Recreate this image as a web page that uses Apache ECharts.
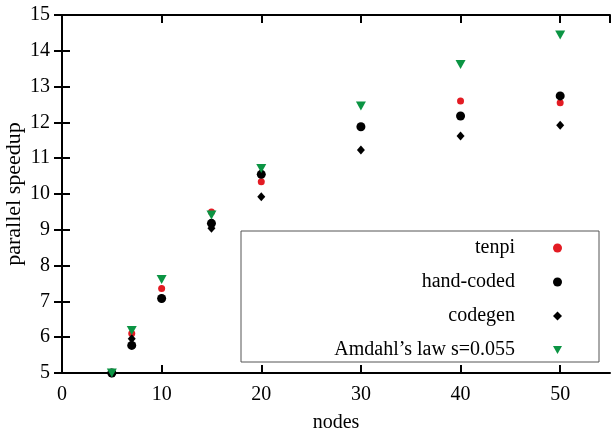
<!DOCTYPE html>
<html>
<head>
<meta charset="utf-8">
<script src="https://cdn.jsdelivr.net/npm/echarts@6/dist/echarts.min.js"></script>
<style>
  html, body { margin: 0; padding: 0; background: #fff; }
  #main { width: 611px; height: 429px; }
</style>
</head>
<body>
<div id="main"></div>
<script>
// nodes on the x axis
const nodes = [5, 7, 10, 15, 20, 30, 40, 50]
// measured parallel speedup per series
const tenpi = [5.0, 6.10, 7.36, 9.50, 10.34, 11.88, 12.60, 12.55]
const handCoded = [5.0, 5.77, 7.08, 9.18, 10.55, 11.88, 12.18, 12.74]
const codegen = [5.0, 5.96, 7.08, 9.04, 9.92, 11.23, 11.62, 11.92]
const amdahl = [5.0, 6.19, 7.61, 9.41, 10.71, 12.46, 13.62, 14.44]
const seriesNames = ['tenpi', 'hand-coded', 'codegen', "Amdahl\u2019s law s=0.055"]

const font = 'Liberation Serif, Times New Roman, serif'
const downTriangle = 'path://M0,0 L10,0 L5,8.66 Z'

const pairs = (ys) => nodes.map((x, i) => [x, ys[i]])

var myChart = echarts.init(document.getElementById('main'), null, { renderer: 'canvas' })

const axisCommon = {
  axisLine: { show: true, lineStyle: { color: '#000', width: 2 } },
  axisTick: { show: true, inside: true, length: 8, lineStyle: { color: '#000', width: 2 } },
  splitLine: { show: false }
}

var option = {
  animation: false,
  backgroundColor: '#fff',
  textStyle: { fontFamily: font },
  grid: { left: 62, top: 15, right: 1, bottom: 56, outerBoundsMode: 'none', containLabel: false },
  graphic: [
    {
      type: 'rect',
      shape: { x: 241, y: 231, width: 358, height: 131 },
      style: { fill: '#fff', stroke: '#555', lineWidth: 1 },
      z: 3
    }
  ],
  legend: {
    orient: 'vertical',
    align: 'right',
    right: 49,
    top: 238,
    padding: 0,
    itemWidth: 9,
    itemHeight: 9,
    itemGap: 14,
    z: 4,
    textStyle: {
      fontFamily: font,
      fontSize: 20,
      color: '#000',
      width: 260,
      align: 'right',
      lineHeight: 14,
      padding: [0, 33, 0, 0]
    },
    data: [
      { name: seriesNames[0], icon: 'circle', itemStyle: { color: '#e31b23' } },
      { name: seriesNames[1], icon: 'circle' },
      { name: seriesNames[2], icon: 'diamond' },
      { name: seriesNames[3], icon: downTriangle }
    ]
  },
  xAxis: [
    Object.assign({}, axisCommon, {
      type: 'value',
      position: 'bottom',
      min: 0,
      max: 55,
      interval: 10,
      name: 'nodes',
      nameLocation: 'middle',
      nameGap: 40,
      nameMoveOverlap: false,
      nameTextStyle: { fontFamily: font, fontSize: 20, color: '#000' },
      axisLabel: { fontFamily: font, fontSize: 20, color: '#000', margin: 12, showMaxLabel: false }
    }),
    Object.assign({}, axisCommon, {
      type: 'value',
      position: 'top',
      min: 0,
      max: 55,
      interval: 10,
      axisLabel: { show: false }
    })
  ],
  yAxis: [
    Object.assign({}, axisCommon, {
      type: 'value',
      position: 'left',
      min: 5,
      max: 15,
      interval: 1,
      name: 'parallel speedup',
      nameLocation: 'middle',
      nameGap: 37,
      nameMoveOverlap: false,
      nameTextStyle: { fontFamily: font, fontSize: 22, color: '#000' },
      axisLabel: { fontFamily: font, fontSize: 20, color: '#000', margin: 12 }
    }),
    Object.assign({}, axisCommon, {
      type: 'value',
      position: 'right',
      min: 5,
      max: 15,
      interval: 1,
      axisLabel: { show: false }
    })
  ],
  series: [
    {
      name: seriesNames[0],
      type: 'scatter',
      symbol: 'circle',
      symbolSize: 7,
      itemStyle: { color: '#e31b23', opacity: 1 },
      data: pairs(tenpi),
      clip: false,
      z: 5
    },
    {
      name: seriesNames[1],
      type: 'scatter',
      symbol: 'circle',
      symbolSize: 9,
      itemStyle: { color: '#000', opacity: 1 },
      data: pairs(handCoded),
      clip: false,
      z: 6
    },
    {
      name: seriesNames[2],
      type: 'scatter',
      symbol: 'diamond',
      symbolSize: [8, 9],
      itemStyle: { color: '#000', opacity: 1 },
      data: pairs(codegen),
      clip: false,
      z: 7
    },
    {
      name: seriesNames[3],
      type: 'scatter',
      symbol: downTriangle,
      symbolSize: [10, 9],
      itemStyle: { color: '#0b9443', opacity: 1 },
      data: pairs(amdahl),
      clip: false,
      z: 8
    }
  ]
}

myChart.setOption(option)
</script>
</body>
</html>
